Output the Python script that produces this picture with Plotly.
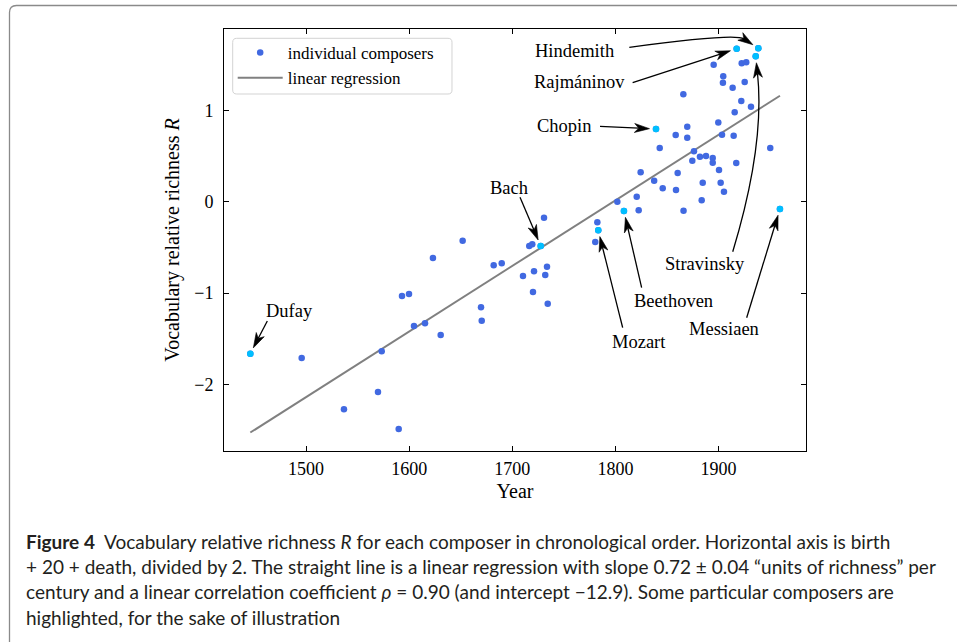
import math
import plotly.graph_objects as go

# ---------------- data ----------------
# Year = (birth + 20 + death) / 2 ; R = vocabulary relative richness
years = [1495.8, 1536.8, 1569.8, 1573.4, 1589.9, 1593.1, 1599.9, 1604.7, 1615.4,
         1623.1, 1630.6, 1651.9, 1669.7, 1670.4, 1682.0, 1689.8, 1710.4, 1716.5,
         1719.4, 1720.1, 1721.1, 1730.8, 1732.0, 1733.7, 1734.4, 1780.5, 1782.5,
         1801.9, 1820.7, 1822.6, 1824.5, 1837.6, 1843.0, 1845.9, 1858.5, 1858.8,
         1860.4, 1865.9, 1866.1, 1869.7, 1869.7, 1874.6, 1876.2, 1882.0, 1883.7,
         1884.7, 1887.9, 1894.4, 1894.4, 1895.3, 1899.8, 1900.5, 1902.1, 1903.4,
         1904.6, 1904.3, 1905.3, 1913.7, 1914.7, 1915.7, 1917.2, 1922.1, 1922.5,
         1925.4, 1926.9, 1931.5, 1950.2]
richness = [-1.711, -2.273, -2.084, -1.638, -2.489, -1.033, -1.011, -1.361, -1.331,
            -0.616, -1.460, -0.427, -1.156, -1.303, -0.696, -0.674, -0.814, -0.485,
            -0.466, -0.989, -0.762, -0.175, -0.803, -0.712, -1.117, -0.441, -0.226,
            0.000, 0.055, -0.094, 0.322, 0.228, 0.588, 0.147, 0.730, 0.128,
            0.314, 1.176, -0.099, 0.821, 0.701, 0.449, 0.552, 0.493, 0.015,
            0.208, 0.500, 0.478, 0.427, 1.500, 0.867, 0.347, 0.208, 0.734,
            1.373, 1.303, 0.109, 1.248, 0.723, 0.979, 0.424, 1.103, 1.515,
            1.311, 1.526, 1.040, 0.588]

hl_names = ["Dufay", "Bach", "Mozart", "Beethoven", "Chopin",
            "Rajmáninov", "Stravinsky", "Hindemith", "Messiaen"]
hl_years = [1446.0, 1727.6, 1783.4, 1808.3, 1839.4, 1917.6, 1936.1, 1938.6, 1959.6]
hl_richness = [-1.664, -0.485, -0.313, -0.102, 0.796, 1.675, 1.592, 1.680, -0.080]

# linear regression (from the caption): slope per year, intercept
reg_slope = 0.00718
reg_intercept = -12.91

x_ticks = [1500, 1600, 1700, 1800, 1900]
y_ticks = [-2, -1, 0, 1]

# ---------------- layout helpers ----------------
W, H = 957, 642
PL, PR, PT, PB = 224, 806, 29, 451
XR = [1420.48, 1984.85]
YR = [-2.730, 1.891]


def to_px(x, y):
    return (PL + (x - XR[0]) / (XR[1] - XR[0]) * (PR - PL),
            PB - (y - YR[0]) / (YR[1] - YR[0]) * (PB - PT))


def to_data(px, py):
    return (XR[0] + (px - PL) / (PR - PL) * (XR[1] - XR[0]),
            YR[0] + (PB - py) / (PB - PT) * (YR[1] - YR[0]))


def to_paper(px, py):
    return ((px - PL) / (PR - PL), (PB - py) / (PB - PT))


# label placement, in pixel offsets from the composer's point:
# text centre, arrow tail, optional curve control point
label_layout = {
    "Dufay":      dict(text=(39.2, -42.7), tail=(17.0, -32.7)),
    "Bach":       dict(text=(-31.7, -58.0), tail=(-20.7, -48.7)),
    "Mozart":     dict(text=(40.7, 111.7), tail=(24.4, 97.4)),
    "Beethoven":  dict(text=(50.0, 89.5), tail=(17.7, 76.7)),
    "Messiaen":   dict(text=(-55.5, 120.0), tail=(-33.3, 108.7)),
    "Chopin":     dict(text=(-92.5, -3.0), tail=(-56.0, -2.7)),
    "Rajmáninov": dict(text=(-157.2, 33.0), tail=(-104.0, 34.0)),
    "Hindemith":  dict(text=(-184.3, 2.4), tail=(-129.0, -1.0), ctrl=(-23.3, -15.3)),
    "Stravinsky": dict(text=(-50.7, 208.0), tail=(-23.0, 195.4), ctrl=(9.3, 88.7)),
}

SERIF = "Liberation Serif, Times New Roman, serif"
BLUE = "#4169E1"
CYAN = "#00BFFF"

fig = go.Figure()

# regression line
all_years = years + hl_years
x_line = [min(all_years), max(all_years)]
y_line = [reg_slope * v + reg_intercept for v in x_line]
fig.add_trace(go.Scatter(x=x_line, y=y_line, mode="lines", name="linear regression",
                         line=dict(color="#808080", width=2), legendrank=2,
                         hoverinfo="skip"))

fig.add_trace(go.Scatter(x=all_years, y=richness + hl_richness, mode="markers",
                         name="individual composers", legendrank=1,
                         marker=dict(color=BLUE, size=6.5, line=dict(width=0))))

fig.add_trace(go.Scatter(x=hl_years, y=hl_richness, mode="markers", showlegend=False,
                         text=hl_names, hoverinfo="text+x+y",
                         marker=dict(color=CYAN, size=6.5, line=dict(width=0))))

shapes = []
annotations = []

SHRINK, HL, HW, NOTCH = 6.5, 15.0, 4.5, 0.72


def fmt(px, py):
    x, y = to_data(px, py)
    return f"{x:.4f},{y:.5f}"


for name, xv, yv in zip(hl_names, hl_years, hl_richness):
    lay = label_layout[name]
    ppx, ppy = to_px(xv, yv)
    dx, dy = lay["text"]
    annotations.append(dict(x=xv, y=yv, xref="x", yref="y", text=name,
                            showarrow=False, xshift=dx, yshift=-dy,
                            xanchor="center", yanchor="middle",
                            font=dict(family=SERIF, size=18.5, color="black")))
    tx, ty = ppx + lay["tail"][0], ppy + lay["tail"][1]
    if "ctrl" in lay:
        cx, cy = ppx + lay["ctrl"][0], ppy + lay["ctrl"][1]
    else:
        cx, cy = tx, ty
    vx, vy = ppx - cx, ppy - cy
    d = math.hypot(vx, vy)
    ux, uy = vx / d, vy / d
    tipx, tipy = ppx - SHRINK * ux, ppy - SHRINK * uy
    nx, ny = -uy, ux
    bx, by = tipx - HL * ux, tipy - HL * uy
    kx, ky = tipx - NOTCH * HL * ux, tipy - NOTCH * HL * uy
    if "ctrl" in lay:
        path = f"M{fmt(tx, ty)} Q{fmt(cx, cy)} {fmt(kx, ky)}"
    else:
        path = f"M{fmt(tx, ty)} L{fmt(kx, ky)}"
    shapes.append(dict(type="path", xref="x", yref="y", path=path,
                       line=dict(color="black", width=1.3)))
    head = (f"M{fmt(tipx, tipy)} L{fmt(bx + HW * nx, by + HW * ny)} "
            f"L{fmt(kx, ky)} L{fmt(bx - HW * nx, by - HW * ny)} Z")
    shapes.append(dict(type="path", xref="x", yref="y", path=head,
                       fillcolor="black", line=dict(color="black", width=0.6)))


def pp(px, py):
    a, b = to_paper(px, py)
    return f"{a:.5f},{b:.5f}"


def rounded_rect(x0, y0, x1, y1, r):
    return (f"M{pp(x0 + r, y0)} L{pp(x1 - r, y0)} Q{pp(x1, y0)} {pp(x1, y0 + r)} "
            f"L{pp(x1, y1 - r)} Q{pp(x1, y1)} {pp(x1 - r, y1)} "
            f"L{pp(x0 + r, y1)} Q{pp(x0, y1)} {pp(x0, y1 - r)} "
            f"L{pp(x0, y0 + r)} Q{pp(x0, y0)} {pp(x0 + r, y0)} Z")


# legend frame (rounded, like matplotlib's)
shapes.append(dict(type="path", xref="paper", yref="paper",
                   path=rounded_rect(232.7, 38.3, 452, 94, 4),
                   fillcolor="rgba(255,255,255,0.85)",
                   line=dict(color="#d3d3d3", width=1), layer="above"))

# outer figure frame (rounded top-left corner)
fl, ft, rad = 9.5, 5.5, 7.0
frame = (f"M{pp(fl, H + 20)} L{pp(fl, ft + rad)} Q{pp(fl, ft)} {pp(fl + rad, ft)} "
         f"L{pp(W + 20, ft)}")
shapes.append(dict(type="path", xref="paper", yref="paper", path=frame,
                   line=dict(color="#8a8a8a", width=1.3), layer="below"))

# caption
caption_lines = [
    "<b>Figure 4</b>  Vocabulary relative richness <i>R</i> for each composer in chronological order. Horizontal axis is birth",
    "+ 20 + death, divided by 2. The straight line is a linear regression with slope 0.72 ± 0.04 “units of richness” per",
    "century and a linear correlation coefficient <i>ρ</i> = 0.90 (and intercept −12.9). Some particular composers are",
    "highlighted, for the sake of illustration",
]
cap_y = [541, 566, 591, 617]
for line, cy in zip(caption_lines, cap_y):
    ax_, ay_ = to_paper(24, cy)
    annotations.append(dict(x=ax_, y=ay_, xref="paper", yref="paper", text=line,
                            showarrow=False, xanchor="left", yanchor="middle",
                            font=dict(family="Lato, Open Sans, sans-serif", size=19,
                                      color="#231f20")))

axis_common = dict(showline=True, linecolor="black", linewidth=1, mirror="ticks",
                   ticks="inside", ticklen=5, tickwidth=1, tickcolor="black",
                   showgrid=False, zeroline=False,
                   tickfont=dict(family=SERIF, size=18, color="black"))

fig.update_layout(
    width=W, height=H,
    margin=dict(l=PL, r=W - PR, t=PT, b=H - PB, autoexpand=False),
    paper_bgcolor="white", plot_bgcolor="white",
    xaxis=dict(range=XR, tickvals=x_ticks, ticklabelstandoff=1,
               title=dict(text="Year", font=dict(family=SERIF, size=20, color="black"),
                          standoff=6),
               **axis_common),
    yaxis=dict(range=YR, tickvals=y_ticks, ticklabelstandoff=6,
               title=dict(text="Vocabulary relative richness <i>R</i>",
                          font=dict(family=SERIF, size=20, color="black"),
                          standoff=9),
               **axis_common),
    legend=dict(x=to_paper(232.7, 35)[0], y=to_paper(232.7, 35)[1],
                xanchor="left", yanchor="top", bgcolor="rgba(0,0,0,0)",
                borderwidth=0,
                font=dict(family=SERIF, size=17, color="black"),
                tracegroupgap=0, itemwidth=45),
    shapes=shapes,
    annotations=annotations,
    showlegend=True,
)

fig.write_html("out.html")
